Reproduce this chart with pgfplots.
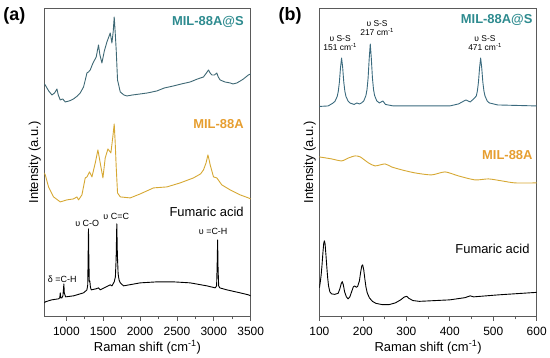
\documentclass[border=0pt]{standalone}
\usepackage{pgfplots}
\pgfplotsset{compat=1.18}
\usepackage{fontspec}
\setmainfont{Liberation Sans}
\definecolor{tealtxt}{RGB}{46,139,143}
\definecolor{tealA}{RGB}{62,104,116}
\definecolor{tealB}{RGB}{58,106,126}
\definecolor{orgtxt}{RGB}{230,158,48}
\definecolor{goldl}{RGB}{214,168,51}
\definecolor{framec}{RGB}{90,90,90}
\newcommand{\fs}[1]{\fontsize{#1}{#1}\selectfont}
\begin{document}
\begin{tikzpicture}[x=1bp,y=1bp]
\path (0,0) rectangle (550,358);
\pgfplotsset{
  myaxis/.style={
    scale only axis, height=309bp,
    ymin=0, ymax=309, ytick=\empty,
    axis line style={framec, line width=0.8bp},
    tick style={framec, line width=0.7bp},
    tick align=outside, xtick pos=bottom,
    major tick length=4bp, minor tick length=2.5bp,
    minor x tick num=1,
    ticklabel style={font=\fs{12}},
    xticklabel style={yshift=-3bp},
    /pgf/number format/assume math mode=true,
    /pgf/number format/1000 sep={},
    xlabel={Raman shift (cm\textsuperscript{-1})},
    xlabel style={font=\fs{13}, yshift=2bp},
    ylabel={Intensity (a.u.)},
    ylabel style={font=\fs{13}, yshift=-4bp},
    clip=true,
  }
}
% ---------- panel (a) ----------
\begin{axis}[myaxis, at={(44bp,41bp)}, anchor=south west, width=206.5bp,
  xmin=700, xmax=3500, xtick={1000,1500,2000,2500,3000,3500}]
\addplot[tealA, line width=0.9bp, line join=round] coordinates {
(700,233)(713,232)(760,226)(804,222)(840,224)(872,228)(890,222)(917,217)(950,218)(985,215)(1040,216)(1097,218)(1150,221)(1188,224)(1233,230)(1260,238)(1279,244)(1300,245)(1324,247)(1350,252)(1369,255)(1405,260)(1420,266)(1436,272)(1455,262)(1482,254)(1515,266)(1550,275)(1595,284)(1618,274)(1635,285)(1649,300)(1662,285)(1676,267)(1694,237)(1731,225)(1780,222)(1821,221)(1900,222)(2002,223)(2100,224)(2228,226)(2330,229)(2453,231)(2560,233)(2680,235)(2780,238)(2860,240)(2900,244)(2928,247)(2950,244)(2974,242)(3010,242)(3041,244)(3060,240)(3086,237)(3150,235)(3222,234)(3260,233)(3313,234)(3360,236)(3402,238)(3470,242)(3500,243)};
\addplot[goldl, line width=0.9bp, line join=round] coordinates {
(700,144)(714,142)(758,130)(826,120)(917,115)(1007,117)(1097,118)(1143,120)(1165,117)(1211,122)(1256,139)(1279,140)(1314,145)(1347,140)(1392,154)(1428,167)(1459,154)(1496,139)(1527,159)(1564,168)(1604,164)(1630,180)(1649,193)(1662,175)(1676,150)(1694,124)(1731,120)(1866,119)(2002,123)(2182,129)(2364,130)(2544,134)(2724,139)(2820,143)(2860,147)(2895,154)(2920,162)(2940,156)(2951,152)(2996,140)(3041,139)(3109,132)(3222,127)(3358,122)(3470,119)(3500,118)};
\addplot[black, line width=0.9bp, line join=round] coordinates {
(700,14)(714,15)(800,17)(894,18)(910,19)(917,24)(924,19)(940,19)(953,21)(960,27)(966,33)(972,24)(989,20)(1097,21)(1233,24)(1279,27)(1290,32)(1295,60)(1300,88)(1305,58)(1311,35)(1318,36)(1326,30)(1337,27)(1400,28)(1436,29)(1459,27)(1595,32)(1618,31)(1649,35)(1665,40)(1675,58)(1684,93)(1692,62)(1702,43)(1715,37)(1731,34)(1776,31)(2002,34)(2228,35)(2453,35)(2680,34)(2906,31)(3019,29)(3038,31)(3045,50)(3052,77)(3058,48)(3066,31)(3080,29)(3177,27)(3358,24)(3470,22)(3500,21)};
\end{axis}
% ---------- panel (b) ----------
\begin{axis}[myaxis, at={(319.3bp,41bp)}, anchor=south west, width=217.4bp,
  xmin=100, xmax=600, xtick={100,200,300,400,500,600}]
\addplot[tealB, line width=0.9bp, line join=round] coordinates {
(100,210.5)(120,211)(131,213.8)(136,215.8)(141,220.6)(143.5,225.8)(146,235)(148.5,249.4)(151,259)(153.5,249.4)(156,235)(158.5,225.8)(161,220.6)(166,215.8)(171,213.8)(180,212.5)(186,214)(192,213)(197,214)(202,216)(207,221.4)(209.5,227.4)(212,238.8)(214.5,258)(217,273)(219.5,258)(222,238.8)(224.5,227.4)(227,221.4)(232,216)(238,214)(246,216)(252,212.5)(270,211)(400,211)(420,213)(437,217)(447,215)(456,218.5)(461,221)(463.5,226)(466,235)(468.5,249)(471,259)(473.5,249)(476,235)(478.5,226)(481,221)(486,216)(491,214)(510,212)(600,211)};
\addplot[goldl, line width=0.9bp, line join=round, smooth, tension=0.4] coordinates {
(100,160)(128,158)(151,156)(167,159)(182,161)(194,160)(213,154)(228,151)(251,153)(266,150)(290,147)(320,144)(358,142)(389,145)(420,141)(458,137)(489,138)(520,136)(550,134)(600,134)};
\addplot[black, line width=0.9bp, line join=round] coordinates {
(100,29)(102,35)(104,42)(106,52)(108,64)(110,74)(111.5,76)(113,73)(115,62)(117,50)(119,39)(121,31)(124,25)(128,23)(135,22.5)(143,23.5)(147,28)(150,33)(152.5,35.3)(155,32)(158,25)(162,20)(166,18)(170,20)(174,25)(178,30)(181,31)(185,29.5)(188,30.5)(192,36)(195,45)(197.5,51)(199.5,52)(202,47)(204.5,38)(207,30)(210,24)(215,19)(222,15.5)(230,13.5)(245,12.2)(260,12.2)(275,14)(287,17)(295,19.8)(301,20.5)(306,18.5)(315,16.3)(330,15.5)(400,17)(435,19.2)(447,21)(455,20)(512,22)(600,24.5)};
\end{axis}
% ---------- annotations ----------
\node[font=\bfseries\fs{18}] at (14,342) {(a)};
\node[font=\bfseries\fs{18}] at (290,342) {(b)};
\node[font=\bfseries\fs{13}, text=tealtxt, anchor=east] at (247,336) {MIL-88A@S};
\node[font=\bfseries\fs{13}, text=orgtxt, anchor=east] at (247,234) {MIL-88A};
\node[font=\fs{13}, anchor=east] at (247,146) {Fumaric acid};
\node[font=\fs{9}] at (62,79) {δ =C-H};
\node[font=\fs{9}] at (87,134) {υ C-O};
\node[font=\fs{9}] at (116,141) {υ C=C};
\node[font=\fs{9}] at (213,126) {υ =C-H};
\node[font=\bfseries\fs{13}, text=tealtxt, anchor=east] at (536,338) {MIL-88A@S};
\node[font=\bfseries\fs{13}, text=orgtxt, anchor=east] at (536,203) {MIL-88A};
\node[font=\fs{13}, anchor=east] at (533,109) {Fumaric acid};
\node[font=\fs{8.5}, align=center, inner sep=0pt] at (340,315) {υ S-S\\[1pt]151 cm\textsuperscript{-1}};
\node[font=\fs{8.5}, align=center, inner sep=0pt] at (377,330) {υ S-S\\[1pt]217 cm\textsuperscript{-1}};
\node[font=\fs{8.5}, align=center, inner sep=0pt] at (485,315) {υ S-S\\[1pt]471 cm\textsuperscript{-1}};
\end{tikzpicture}
\end{document}
